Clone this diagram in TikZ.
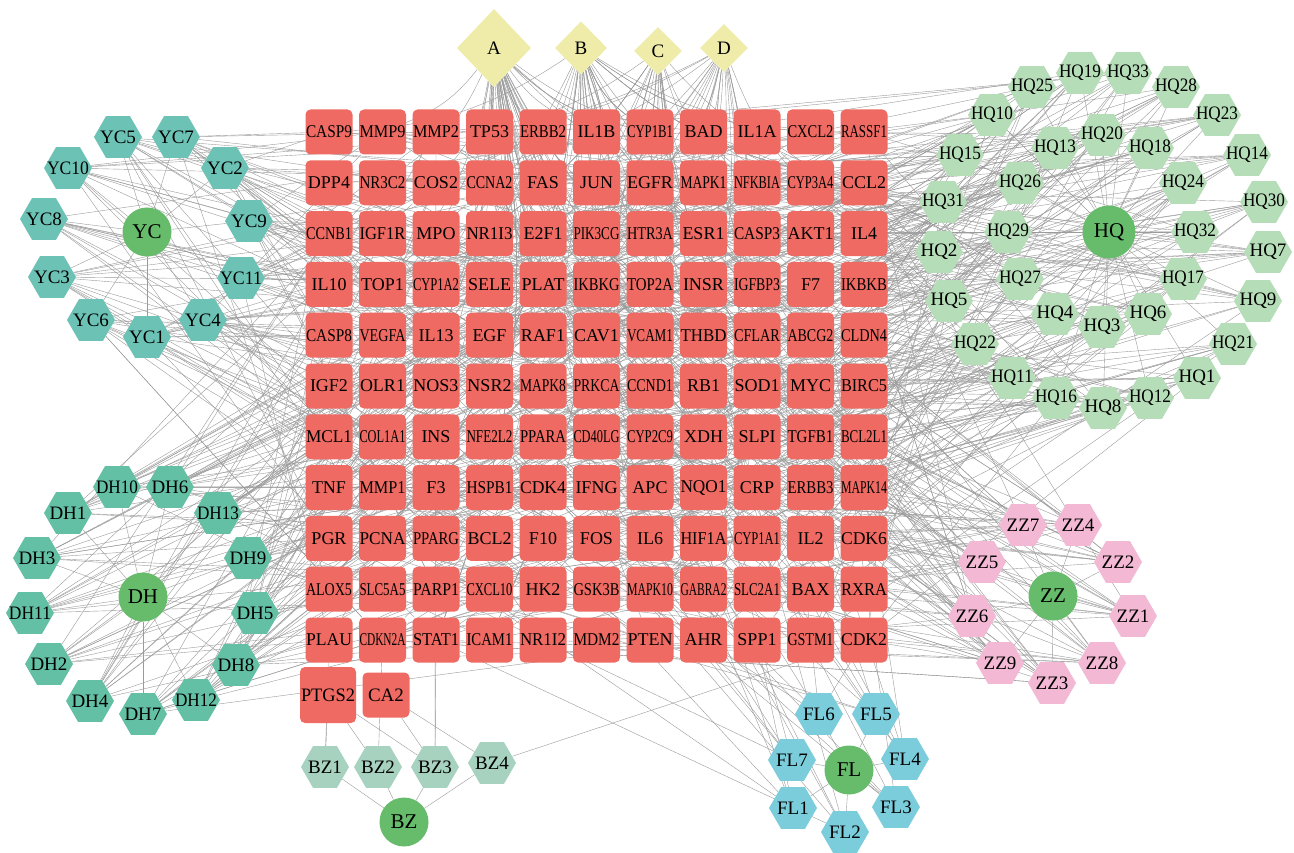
\documentclass[tikz,border=0pt]{standalone}
\usepackage{fontspec}
\setmainfont{Liberation Serif}
\usetikzlibrary{shapes.geometric}

\pgfdeclarelayer{edges}
\pgfsetlayers{edges,main}

\definecolor{tgtred}{RGB}{239,106,98}
\definecolor{hubgreen}{RGB}{103,188,108}
\definecolor{yccol}{RGB}{108,195,181}
\definecolor{dhcol}{RGB}{99,192,165}
\definecolor{hqcol}{RGB}{181,221,183}
\definecolor{zzcol}{RGB}{242,184,212}
\definecolor{bzcol}{RGB}{168,210,192}
\definecolor{flcol}{RGB}{124,205,220}
\definecolor{drugcol}{RGB}{238,236,168}
\definecolor{linkgray}{RGB}{155,155,155}

% squeeze a label sideways when it is wider than #1 pt
\newlength\lablen
\newcommand\fitlab[2]{\settowidth\lablen{#2}\pgfmathsetmacro\labfac{min(1,#1/\lablen)}\scalebox{\labfac}[1]{#2}}

\tikzset{
  target/.style={rectangle, rounded corners=5pt, fill=tgtred, minimum width=47pt, minimum height=45pt, inner sep=0pt, font=\fontsize{18}{18}\selectfont},
  hub/.style={circle, fill=hubgreen, minimum size=49pt, inner sep=0pt, font=\fontsize{21}{21}\selectfont},
  herblab/.style={inner sep=0pt, font=\fontsize{19}{19}\selectfont},
  herb/.style={regular polygon, regular polygon sides=6, minimum size=48pt, inner sep=0pt, label={[herblab]center:{\fitlab{42}{#1}}}},
  druglab/.style={inner sep=0pt, font=\fontsize{19}{19}\selectfont},
  drug/.style={diamond, fill=drugcol, inner sep=0pt, label={[druglab]center:#1}},
  link/.style={draw=linkgray, line width=0.4pt},
}

\begin{document}
\begin{tikzpicture}[x=1pt,y=1pt,yscale=-1]
\useasboundingbox (0,0) rectangle (1294,853);

% target grid
\foreach \lab [count=\i from 0] in {CASP9,MMP9,MMP2,TP53,ERBB2,IL1B,CYP1B1,BAD,IL1A,CXCL2,RASSF1,
  DPP4,NR3C2,COS2,CCNA2,FAS,JUN,EGFR,MAPK1,NFKBIA,CYP3A4,CCL2,
  CCNB1,IGF1R,MPO,NR1I3,E2F1,PIK3CG,HTR3A,ESR1,CASP3,AKT1,IL4,
  IL10,TOP1,CYP1A2,SELE,PLAT,IKBKG,TOP2A,INSR,IGFBP3,F7,IKBKB,
  CASP8,VEGFA,IL13,EGF,RAF1,CAV1,VCAM1,THBD,CFLAR,ABCG2,CLDN4,
  IGF2,OLR1,NOS3,NSR2,MAPK8,PRKCA,CCND1,RB1,SOD1,MYC,BIRC5,
  MCL1,COL1A1,INS,NFE2L2,PPARA,CD40LG,CYP2C9,XDH,SLPI,TGFB1,BCL2L1,
  TNF,MMP1,F3,HSPB1,CDK4,IFNG,APC,NQO1,CRP,ERBB3,MAPK14,
  PGR,PCNA,PPARG,BCL2,F10,FOS,IL6,HIF1A,CYP1A1,IL2,CDK6,
  ALOX5,SLC5A5,PARP1,CXCL10,HK2,GSK3B,MAPK10,GABRA2,SLC2A1,BAX,RXRA,
  PLAU,CDKN2A,STAT1,ICAM1,NR1I2,MDM2,PTEN,AHR,SPP1,GSTM1,CDK2}{
  \pgfmathtruncatemacro\row{\i/11}
  \pgfmathtruncatemacro\col{mod(\i,11)}
  \node[target] (t\i) at ({329+53.5*\col},{132+50.8*\row}) {\fitlab{46}{\lab}};
}
\node[target, minimum width=56pt, minimum height=56pt, font=\fontsize{19}{19}\selectfont] (t121) at (328,695) {\fitlab{54}{PTGS2}};
\node[target, font=\fontsize{19}{19}\selectfont] (t122) at (386,695) {CA2};

% compounds
\node[drug=A, minimum width=74pt, minimum height=78pt] (A) at (494,48) {};
\node[drug=B, minimum width=52pt, minimum height=53pt] (B) at (581,48) {};
\node[drug=C, minimum width=48pt, minimum height=48pt] (C) at (658,51) {};
\node[drug=D, minimum width=48pt, minimum height=48pt] (D) at (724,48) {};

% herb hubs
\node[hub] (YC) at (147,232) {YC};
\node[hub] (DH) at (143,597) {DH};
\node[hub, minimum size=53pt] (HQ) at (1109,232) {HQ};
\node[hub] (ZZ) at (1053,596) {ZZ};
\node[hub] (BZ) at (404,822) {BZ};
\node[hub] (FL) at (849,770) {FL};

% ingredients
\foreach \n/\x/\y in {YC1/147/337,YC2/225/168,YC3/52/277,YC4/203/320,YC5/118/137,YC6/91/320,
  YC7/176/137,YC8/44/219,YC9/249/221,YC10/68/168,YC11/241/278}
  \node[herb=\n, fill=yccol] (\n) at (\x,\y) {};
\foreach \n/\x/\y in {DH1/68/513,DH2/49/664,DH3/37/558,DH4/90/701,DH5/255/613,DH6/170/487,
  DH7/143/714,DH8/236/665,DH9/248/558,DH10/117/487,DH11/30/613,DH12/196/700,DH13/218/513}
  \node[herb=\n, fill=dhcol] (\n) at (\x,\y) {};
\foreach \n/\x/\y in {HQ1/1197/378,HQ2/939/252,HQ3/1102/327,HQ4/1055/314,HQ5/949/301,
  HQ6/1148/314,HQ7/1268/252,HQ8/1103/408,HQ9/1258/301,HQ10/992/115,HQ11/1012/378,
  HQ12/1150/398,HQ13/1055/148,HQ14/1247/155,HQ15/960/155,HQ16/1056/398,HQ17/1183/279,
  HQ18/1150/148,HQ19/1080/73,HQ20/1102/135,HQ21/1233/344,HQ22/975/344,HQ23/1217/115,
  HQ24/1183/183,HQ25/1032/87,HQ26/1020/183,HQ27/1020/279,HQ28/1176/87,HQ29/1008/232,
  HQ30/1264/202,HQ31/943/202,HQ32/1195/232,HQ33/1128/73}
  \node[herb=\n, fill=hqcol] (\n) at (\x,\y) {};
\foreach \n/\x/\y in {ZZ1/1133/616,ZZ2/1118/562,ZZ3/1052/683,ZZ4/1078/525,ZZ5/982/562,
  ZZ6/972/616,ZZ7/1023/525,ZZ8/1102/663,ZZ9/1000/663}
  \node[herb=\n, fill=zzcol] (\n) at (\x,\y) {};
\foreach \n/\x/\y in {BZ1/325/767,BZ2/378/767,BZ3/435/767,BZ4/492/763}
  \node[herb=\n, fill=bzcol] (\n) at (\x,\y) {};
\foreach \n/\x/\y in {FL1/793/808,FL2/845/832,FL3/896/807,FL4/905/759,FL5/876/714,
  FL6/819/714,FL7/792/760}
  \node[herb=\n, fill=flcol] (\n) at (\x,\y) {};

\begin{pgfonlayer}{edges}
\fill[white] (0,0) rectangle (1294,853);
% hub to ingredient
\foreach \h/\n in {YC/11,DH/13,HQ/33,ZZ/9,BZ/4,FL/7}
  \foreach \k in {1,...,\n}
    \draw[link] (\h) -- (\h\k);
% ingredient to target
\pgfmathsetseed{4217}
\foreach \h/\n/\d in {YC/11/12,DH/13/11,HQ/33/9,ZZ/9/12,FL/7/5}
  \foreach \k in {1,...,\n}
    \foreach \j in {1,...,\d}{
      \pgfmathrandominteger{\tgt}{0}{120}
      \draw[link] (\h\k) -- (t\tgt);
    }
\foreach \a/\b in {BZ1/t121,BZ1/t110,BZ2/t121,BZ2/t111,BZ3/t121,BZ3/t112,BZ3/t2,BZ3/t122,BZ4/t122,BZ4/t120}
  \draw[link] (\a) -- (\b);
% compound to target
\foreach \d/\n/\c in {A/56/4,B/40/6,C/26/6,D/26/8}
  \foreach \j in {1,...,\n}{
    \pgfmathrandominteger{\tgt}{0}{120}
    \pgfmathtruncatemacro\tc{mod(\tgt,11)}
    \ifnum\tc<\c
      \draw[link] (\d) to[bend right=15] (t\tgt);
    \else
      \draw[link] (\d) to[bend left=15] (t\tgt);
    \fi
  }
\end{pgfonlayer}

\end{tikzpicture}
\end{document}
